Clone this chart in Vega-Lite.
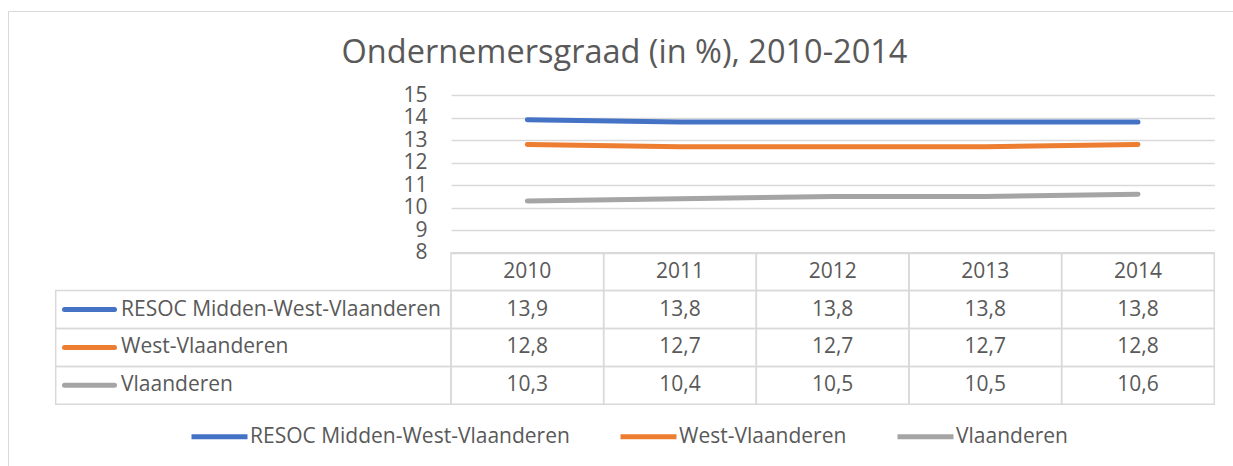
{
  "$schema": "https://vega.github.io/schema/vega-lite/v6.json",
  "width": 1225,
  "height": 455,
  "autosize": {"type": "none"},
  "padding": {"left": 8, "top": 11, "right": 0, "bottom": 0},
  "background": "white",
  "title": {
    "text": "Ondernemersgraad (in %), 2010-2014",
    "font": "Open Sans",
    "fontSize": 32.5,
    "fontWeight": "normal",
    "color": "#595959",
    "anchor": "middle",
    "offset": -58,
    "dx": 4
  },
  "datasets": {
    "values": [
      {"series": "RESOC Midden-West-Vlaanderen", "year": 2010, "value": 13.9},
      {"series": "RESOC Midden-West-Vlaanderen", "year": 2011, "value": 13.8},
      {"series": "RESOC Midden-West-Vlaanderen", "year": 2012, "value": 13.8},
      {"series": "RESOC Midden-West-Vlaanderen", "year": 2013, "value": 13.8},
      {"series": "RESOC Midden-West-Vlaanderen", "year": 2014, "value": 13.8},
      {"series": "West-Vlaanderen", "year": 2010, "value": 12.8},
      {"series": "West-Vlaanderen", "year": 2011, "value": 12.7},
      {"series": "West-Vlaanderen", "year": 2012, "value": 12.7},
      {"series": "West-Vlaanderen", "year": 2013, "value": 12.7},
      {"series": "West-Vlaanderen", "year": 2014, "value": 12.8},
      {"series": "Vlaanderen", "year": 2010, "value": 10.3},
      {"series": "Vlaanderen", "year": 2011, "value": 10.4},
      {"series": "Vlaanderen", "year": 2012, "value": 10.5},
      {"series": "Vlaanderen", "year": 2013, "value": 10.5},
      {"series": "Vlaanderen", "year": 2014, "value": 10.6}
    ]
  },
  "data": {"name": "values"},
  "config": {
    "view": {"stroke": "#d9d9d9", "strokeWidth": 1},
    "font": "Open Sans",
    "locale": {"number": {"decimal": ",", "thousands": ".", "grouping": [3], "currency": ["€", ""]}},
    "text": {"font": "Open Sans", "fontSize": 21, "color": "#595959"},
    "legend": {
      "orient": "none",
      "legendX": 181,
      "legendY": 395,
      "direction": "horizontal",
      "columns": 3,
      "symbolType": "stroke",
      "symbolStrokeWidth": 5,
      "symbolSize": 3136,
      "labelFont": "Open Sans",
      "labelFontSize": 21,
      "labelColor": "#595959",
      "labelOffset": 0,
      "labelLimit": 0,
      "columnPadding": 40,
      "padding": 0
    }
  },
  "layer": [
    {
      "mark": {"type": "line", "strokeWidth": 5, "strokeCap": "round", "strokeJoin": "round"},
      "encoding": {
        "x": {
          "field": "year", "type": "ordinal",
          "scale": {"type": "point", "domain": [2010, 2011, 2012, 2013, 2014], "range": [443, 1206.3], "padding": 0.5},
          "axis": null
        },
        "y": {
          "field": "value", "type": "quantitative",
          "scale": {"domain": [8, 15], "range": [241.7, 84], "zero": false, "nice": false},
          "axis": {
            "values": [8, 9, 10, 11, 12, 13, 14, 15],
            "grid": true, "gridColor": "#d9d9d9", "gridWidth": 1.5,
            "domain": false, "ticks": false,
            "labelPadding": 24, "offset": -443,
            "labelFont": "Open Sans", "labelFontSize": 21, "labelColor": "#595959",
            "labelOverlap": false, "title": null
          }
        },
        "color": {
          "field": "series", "type": "nominal",
          "scale": {"domain": ["RESOC Midden-West-Vlaanderen", "West-Vlaanderen", "Vlaanderen"], "range": ["#4472C4", "#ED7D31", "#A5A5A5"]},
          "legend": {"title": null}
        }
      }
    },
    {
      "layer": [
        {
          "mark": {"type": "rect", "fill": "white", "fillOpacity": 0, "stroke": "#d9d9d9", "strokeWidth": 1.5},
          "encoding": {
            "x": {"field": "year", "type": "ordinal", "scale": {"type": "band", "domain": [2010, 2011, 2012, 2013, 2014], "range": [443, 1206.3], "paddingInner": 0, "paddingOuter": 0}, "axis": null},
            "y": {"field": "series", "type": "nominal", "scale": {"type": "band", "domain": ["jaar", "RESOC Midden-West-Vlaanderen", "West-Vlaanderen", "Vlaanderen"], "range": [241.7, 393.3], "paddingInner": 0, "paddingOuter": 0}, "axis": null}
          }
        },
        {
          "transform": [{"filter": "datum.series === 'Vlaanderen'"}],
          "mark": {"type": "rect", "fill": "white", "fillOpacity": 0, "stroke": "#d9d9d9", "strokeWidth": 1.5},
          "encoding": {
            "x": {"field": "year", "type": "ordinal", "axis": null},
            "y": {"datum": "jaar", "type": "nominal", "axis": null}
          }
        },
        {
          "mark": {"type": "text"},
          "encoding": {
            "x": {"field": "year", "type": "ordinal", "axis": null},
            "y": {"field": "series", "type": "nominal", "axis": null},
            "text": {"field": "value", "type": "quantitative", "format": ".1f"}
          }
        },
        {
          "transform": [{"filter": "datum.series === 'Vlaanderen'"}],
          "mark": {"type": "text"},
          "encoding": {
            "x": {"field": "year", "type": "ordinal", "axis": null},
            "y": {"datum": "jaar", "type": "nominal", "axis": null},
            "text": {"field": "year", "type": "nominal"}
          }
        }
      ]
    },
    {
      "transform": [{"filter": "datum.year === 2010"}],
      "layer": [
        {
          "mark": {"type": "rect", "fill": "white", "fillOpacity": 0, "stroke": "#d9d9d9", "strokeWidth": 1.5},
          "encoding": {
            "x": {"datum": 0, "type": "quantitative", "scale": {"domain": [0, 395.3], "range": [47.7, 443], "zero": false, "nice": false}, "axis": null},
            "x2": {"datum": 395.3},
            "y": {"field": "series", "type": "nominal", "scale": {"type": "band", "domain": ["jaar", "RESOC Midden-West-Vlaanderen", "West-Vlaanderen", "Vlaanderen"], "range": [241.7, 393.3], "paddingInner": 0, "paddingOuter": 0}, "axis": null}
          }
        },
        {
          "mark": {"type": "rule", "strokeWidth": 5, "strokeCap": "round"},
          "encoding": {
            "x": {"datum": 8.8, "type": "quantitative"},
            "x2": {"datum": 58.8},
            "y": {"field": "series", "type": "nominal", "axis": null},
            "color": {"field": "series", "type": "nominal", "legend": {"title": null}}
          }
        },
        {
          "mark": {"type": "text", "align": "left"},
          "encoding": {
            "x": {"datum": 65.3, "type": "quantitative"},
            "y": {"field": "series", "type": "nominal", "axis": null},
            "text": {"field": "series", "type": "nominal"}
          }
        }
      ]
    }
  ],
  "resolve": {"scale": {"x": "independent", "y": "independent"}}
}
